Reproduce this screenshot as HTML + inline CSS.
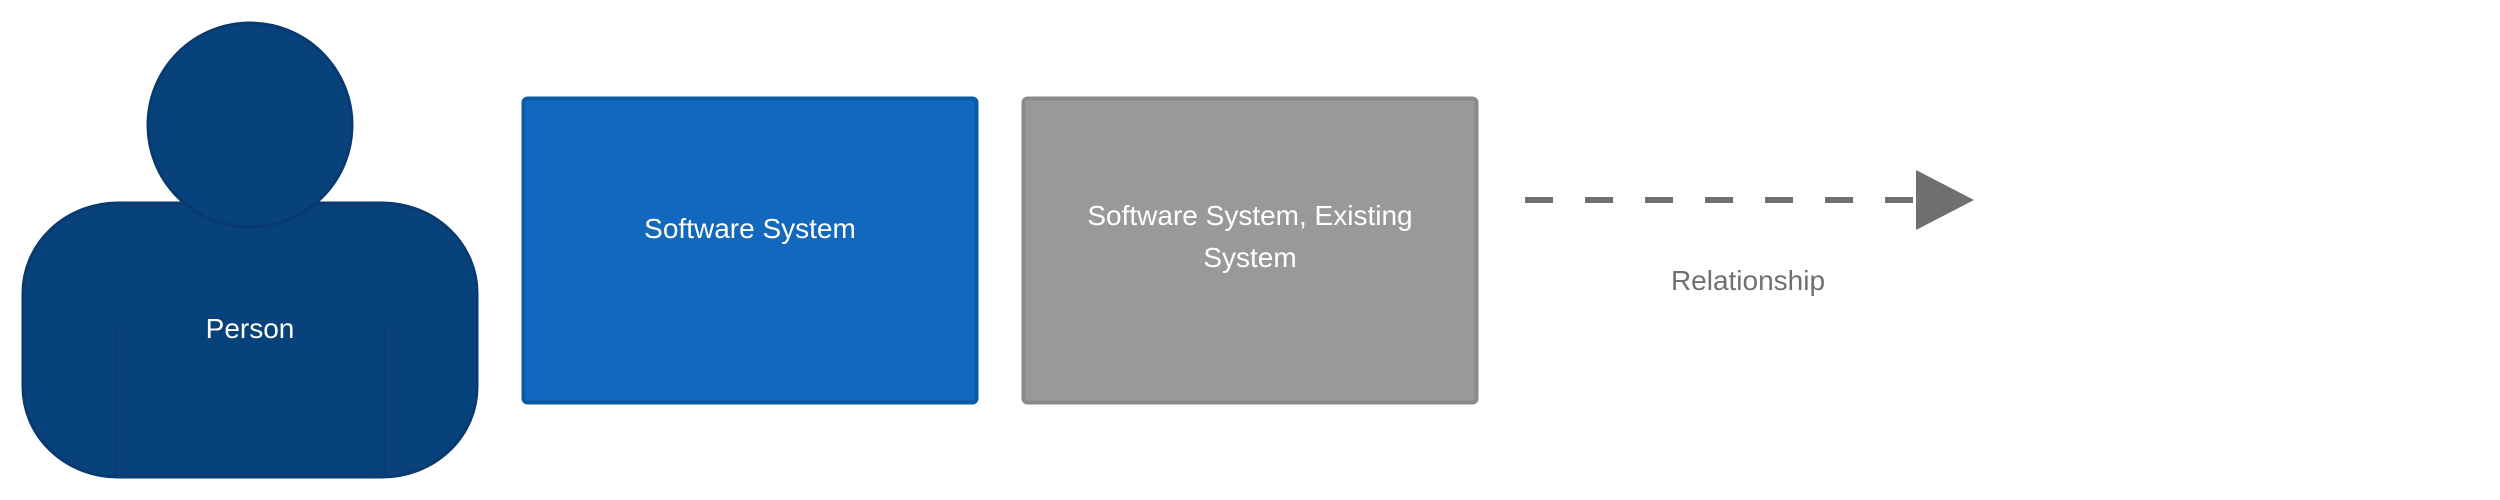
<!DOCTYPE html>
<html><head><meta charset="utf-8"><style>
html,body{margin:0;padding:0;background:#fff;}
</style></head><body>
<svg width="2500" height="500" xmlns="http://www.w3.org/2000/svg" style="display:block">
<g font-family="Liberation Sans, sans-serif" text-anchor="middle">
<rect x="23" y="203" width="454" height="274" rx="95" ry="90" fill="#08427b" stroke="#073b6f" stroke-width="3"/>
<line x1="116" y1="325" x2="116" y2="476" stroke="#073b6f" stroke-width="2"/>
<line x1="385" y1="325" x2="385" y2="476" stroke="#073b6f" stroke-width="2"/>
<circle cx="250" cy="125" r="102" fill="#08427b" stroke="#073b6f" stroke-width="3"/>
<text x="250" y="338" font-size="28" fill="#fff">Person</text>
<rect x="523.5" y="98.5" width="453" height="304" rx="4" fill="#1168bd" stroke="#0b5aa3" stroke-width="4"/>
<text x="750" y="238" font-size="28" fill="#fff">Software System</text>
<rect x="1023.5" y="98.5" width="453" height="304" rx="4" fill="#999999" stroke="#8a8a8a" stroke-width="4"/>
<text x="1250" y="225" font-size="28" fill="#fff">Software System, Existing</text>
<text x="1250" y="267" font-size="28" fill="#fff">System</text>
<line x1="1525" y1="200" x2="1916" y2="200" stroke="#707070" stroke-width="6" stroke-dasharray="28,32"/>
<polygon points="1916,170 1974,200 1916,230" fill="#707070"/>
<text x="1748" y="290" font-size="28" fill="#707070">Relationship</text>
</g>
</svg>
</body></html>
